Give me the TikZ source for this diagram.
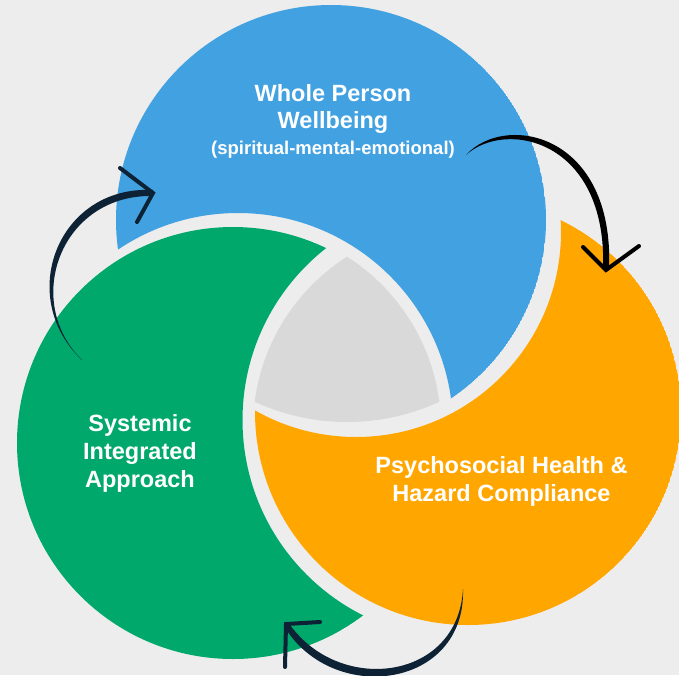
\documentclass[tikz,border=0pt]{standalone}
\usepackage{fontspec}
\setmainfont{Liberation Sans}
\usetikzlibrary{positioning}

\definecolor{paper}{HTML}{EDEDED}
\definecolor{wellblue}{HTML}{42A1E0}
\definecolor{sysgreen}{HTML}{00A86B}
\definecolor{hazorange}{HTML}{FFA600}
\definecolor{hubgrey}{HTML}{D9D9D9}
\definecolor{navy}{HTML}{0E2236}

\begin{document}
\begin{tikzpicture}[x=1pt,y=-1pt,
  ttl/.style={text=white,font=\bfseries\fontsize{23.5}{28}\selectfont,inner sep=0pt,anchor=base},
  sub/.style={text=white,font=\bfseries\fontsize{18.5}{22}\selectfont,inner sep=0pt,anchor=base},
  head/.style={draw=#1,line width=4pt,line cap=round,line join=miter}]
\useasboundingbox (0,0) rectangle (679,675);
\clip (0,0) rectangle (679,675);
\fill[paper] (0,0) rectangle (679,675);

% ring centres
\coordinate (cb) at (331,220);
\coordinate (cg) at (233,443);
\coordinate (co) at (468,412);
% centres of the bites each ring takes out of the one below it
\coordinate (kg) at (238,428);
\coordinate (ko) at (461,420);
\coordinate (kb) at (356,232);
% centres of the hub arcs
\coordinate (hr) at (238,428);
\coordinate (hl) at (456,428);
\coordinate (hb) at (347,202);

% blue, bitten by green
\begin{scope}[even odd rule]
  \clip (cb) circle (215pt);
  \clip (0,0) rectangle (679,675) (kg) circle (215pt);
  \fill[wellblue] (cb) circle (215pt);
\end{scope}
% green, bitten by orange
\begin{scope}[even odd rule]
  \clip (cg) circle (216pt);
  \clip (0,0) rectangle (679,675) (ko) circle (218.5pt);
  \fill[sysgreen] (cg) circle (216pt);
\end{scope}
% orange, bitten by blue
\begin{scope}[even odd rule]
  \clip (co) circle (213pt);
  \clip (0,0) rectangle (679,675) (kb) circle (205pt);
  \fill[hazorange] (co) circle (213pt);
\end{scope}
% grey hub
\begin{scope}
  \clip (hr) circle (203pt);
  \clip (hl) circle (203pt);
  \fill[hubgrey] (hb) circle (220pt);
\end{scope}

% labels
\node[ttl] (wl1) at (333,101.7) {Whole Person};
\node[ttl,below=27pt of wl1.base,anchor=base] (wl2) {Wellbeing};
\node[sub,below=25.5pt of wl2.base,anchor=base] (wl3) {(spiritual-mental-emotional)};

\node[ttl] (sy1) at (140,431.7) {Systemic};
\node[ttl,below=28pt of sy1.base,anchor=base] (sy2) {Integrated};
\node[ttl,below=27.5pt of sy2.base,anchor=base] (sy3) {Approach};

\node[ttl] (ps1) at (501.5,473) {Psychosocial Health \&};
\node[ttl,below=28.7pt of ps1.base,anchor=base] (ps2) {Hazard Compliance};

% brush arrows round the cycle
\coordinate (a1s) at (466,155);
\coordinate (a1e) at (606,270);
\fill[black] (a1s) .. controls (505,119) and (608,139) .. ([xshift=-3pt]a1e)
  -- ([xshift=3pt]a1e) .. controls (615,133) and (505,112) .. (a1s);
\draw[head=black] (a1e) ++(-23,-23) -- (a1e) -- ++(33,-24);

\coordinate (a2s) at (82,360);
\coordinate (a2e) at (153,193);
\fill[navy] (a2s) .. controls (22,301) and (61,194) .. ([yshift=-3pt]a2e)
  -- ([yshift=3pt]a2e) .. controls (58,185) and (15,297) .. (a2s);
\draw[head=navy] (a2e) ++(-33,-25) -- (a2e) -- ++(-16,29);

\coordinate (a3s) at (463,589);
\coordinate (a3e) at (286,624);
\fill[navy] (a3s) .. controls (458,682) and (337,695) .. ([xshift=2pt,yshift=2pt]a3e)
  -- ([xshift=-2pt,yshift=-2pt]a3e) .. controls (332,706) and (466,689) .. (a3s);
\draw[head=navy] (a3e) ++(34,-2) -- (a3e) -- ++(-1,43);
\end{tikzpicture}
\end{document}
